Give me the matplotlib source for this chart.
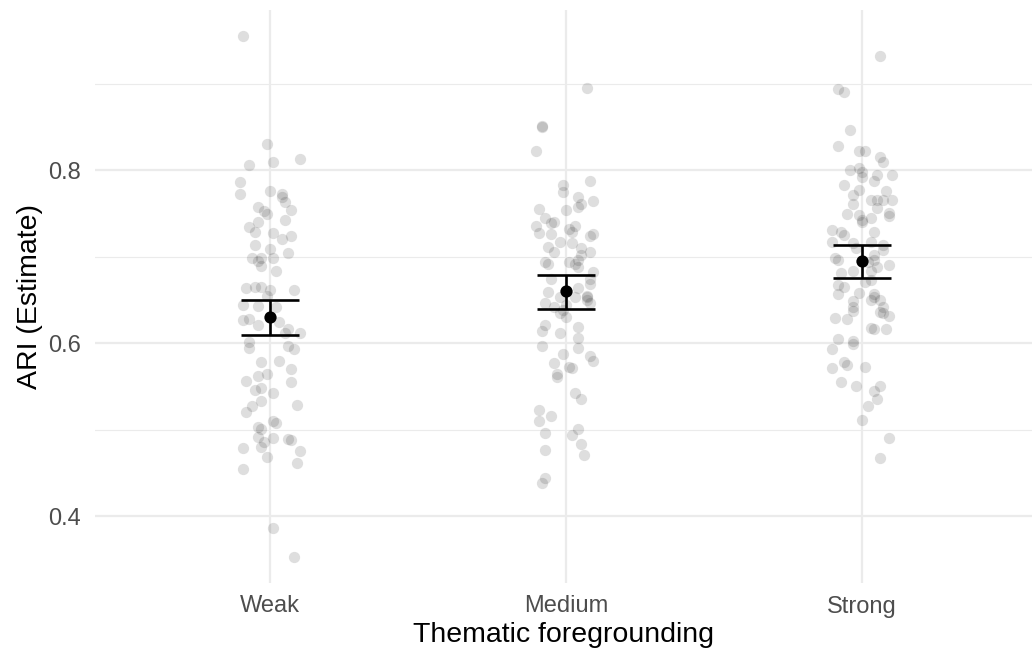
import numpy as np
import matplotlib
matplotlib.use("Agg")
import matplotlib.pyplot as plt

plt.rcParams['font.family'] = ['Liberation Sans', 'DejaVu Sans']

categories = ["Weak", "Medium", "Strong"]

weak_vals = [0.955, 0.830, 0.806, 0.810, 0.813, 0.786, 0.772, 0.776, 0.773, 0.769,
             0.763, 0.754, 0.757, 0.753, 0.749, 0.740, 0.742, 0.734, 0.728, 0.727,
             0.724, 0.720, 0.714, 0.709, 0.704, 0.699, 0.699, 0.695, 0.698, 0.689,
             0.683, 0.664, 0.665, 0.665, 0.661, 0.655, 0.662, 0.644, 0.643, 0.642,
             0.627, 0.628, 0.621, 0.624, 0.617, 0.612, 0.612, 0.601, 0.595, 0.597,
             0.593, 0.578, 0.579, 0.570, 0.562, 0.565, 0.556, 0.555, 0.548, 0.546,
             0.542, 0.533, 0.529, 0.527, 0.521, 0.510, 0.508, 0.503, 0.501, 0.492,
             0.491, 0.486, 0.489, 0.488, 0.479, 0.480, 0.475, 0.468, 0.462, 0.455,
             0.387, 0.353]
weak_jit = [-0.09, -0.01, -0.07, 0.01, 0.10, -0.10, -0.10, 0.00, 0.04, 0.04,
            0.05, 0.07, -0.04, -0.02, -0.01, -0.04, 0.05, -0.07, -0.05, 0.01,
            0.07, 0.04, -0.05, 0.00, 0.06, -0.06, -0.03, -0.04, 0.01, -0.03,
            0.02, -0.08, -0.05, -0.03, 0.00, -0.01, 0.08, -0.09, -0.04, 0.02,
            -0.09, -0.07, -0.04, 0.03, 0.06, 0.10, 0.05, -0.07, -0.07, 0.06,
            0.08, -0.03, 0.03, 0.07, -0.04, -0.01, -0.08, 0.07, -0.03, -0.05,
            0.01, -0.03, 0.09, -0.06, -0.08, 0.01, 0.02, -0.04, -0.03, -0.04,
            0.01, -0.02, 0.06, 0.07, -0.09, -0.03, 0.10, -0.01, 0.09, -0.09,
            0.01, 0.08]

medium_vals = [0.895, 0.851, 0.850, 0.822, 0.787, 0.783, 0.775, 0.769, 0.764, 0.761,
               0.757, 0.755, 0.754, 0.745, 0.740, 0.739, 0.735, 0.736, 0.727, 0.726,
               0.732, 0.728, 0.724, 0.726, 0.717, 0.716, 0.711, 0.705, 0.710, 0.705,
               0.702, 0.696, 0.694, 0.692, 0.694, 0.691, 0.688, 0.674, 0.682, 0.674,
               0.669, 0.664, 0.659, 0.647, 0.653, 0.655, 0.653, 0.650, 0.653, 0.644,
               0.647, 0.642, 0.638, 0.630, 0.635, 0.621, 0.614, 0.612, 0.619, 0.606,
               0.595, 0.597, 0.587, 0.585, 0.579, 0.577, 0.572, 0.571, 0.564, 0.561,
               0.542, 0.535, 0.523, 0.510, 0.516, 0.496, 0.501, 0.494, 0.483, 0.477,
               0.471, 0.444, 0.439]
medium_jit = [0.07, -0.08, -0.08, -0.10, 0.08, -0.01, -0.01, 0.04, 0.09, 0.05,
              0.04, -0.09, 0.00, -0.07, -0.04, -0.05, -0.10, 0.03, -0.09, -0.05,
              0.01, 0.02, 0.08, 0.09, -0.02, 0.02, -0.06, -0.04, 0.05, 0.08,
              0.05, 0.04, -0.07, -0.06, 0.01, 0.03, 0.04, -0.05, 0.09, 0.08,
              0.08, 0.04, -0.06, -0.07, -0.02, 0.07, 0.07, 0.07, 0.03, 0.00,
              0.08, -0.04, -0.01, 0.00, -0.02, -0.07, -0.08, -0.02, 0.04, 0.04,
              0.04, -0.08, -0.01, 0.08, 0.09, -0.04, 0.01, 0.02, -0.03, -0.03,
              0.03, 0.05, -0.09, -0.09, -0.05, -0.07, 0.04, 0.02, 0.05, -0.07,
              0.06, -0.07, -0.08]

strong_vals = [0.932, 0.894, 0.890, 0.846, 0.828, 0.822, 0.822, 0.815, 0.810, 0.800,
               0.802, 0.798, 0.792, 0.794, 0.794, 0.787, 0.783, 0.777, 0.776, 0.771,
               0.765, 0.765, 0.766, 0.766, 0.756, 0.761, 0.749, 0.748, 0.751, 0.747,
               0.742, 0.745, 0.740, 0.731, 0.728, 0.725, 0.728, 0.717, 0.716, 0.710,
               0.717, 0.714, 0.708, 0.698, 0.696, 0.702, 0.696, 0.694, 0.688, 0.690,
               0.681, 0.684, 0.684, 0.673, 0.671, 0.667, 0.665, 0.657, 0.658, 0.657,
               0.653, 0.650, 0.649, 0.642, 0.642, 0.650, 0.637, 0.636, 0.635, 0.631,
               0.629, 0.628, 0.618, 0.617, 0.616, 0.605, 0.602, 0.599, 0.593, 0.578,
               0.575, 0.571, 0.572, 0.555, 0.550, 0.551, 0.545, 0.535, 0.528, 0.511,
               0.491, 0.467]
strong_jit = [0.06, -0.08, -0.06, -0.04, -0.08, -0.01, 0.01, 0.06, 0.07, -0.04,
              -0.01, 0.00, 0.00, 0.05, 0.10, 0.04, -0.06, -0.01, 0.08, -0.03,
              0.03, 0.05, 0.07, 0.10, 0.05, -0.03, -0.05, -0.01, 0.09, 0.09,
              0.00, 0.03, 0.00, -0.10, -0.07, -0.06, 0.04, -0.10, -0.03, -0.02,
              0.03, 0.07, 0.07, -0.09, -0.08, 0.04, 0.04, 0.02, 0.05, 0.09,
              -0.07, -0.03, 0.03, 0.03, 0.01, -0.08, -0.06, -0.08, -0.01, 0.04,
              0.04, 0.06, -0.03, 0.07, -0.03, 0.03, -0.03, 0.06, 0.07, 0.09,
              -0.09, -0.05, 0.03, 0.04, 0.08, -0.08, -0.03, -0.03, -0.10, -0.06,
              -0.05, -0.10, 0.01, -0.07, -0.02, 0.06, 0.04, 0.05, 0.02, 0.00,
              0.09, 0.06]

means = [0.630, 0.660, 0.695]
ci_low = [0.610, 0.640, 0.675]
ci_high = [0.650, 0.679, 0.714]

yticks = [0.4, 0.6, 0.8]
yminor = [0.5, 0.7, 0.9]

fig = plt.figure(figsize=(10.32, 6.51), dpi=100)
ax = fig.add_axes([95/1032, 68/651, 937/1032, 573/651])

grid_c = "#EBEBEB"
for t in yticks:
    ax.axhline(t, color=grid_c, lw=1.6, zorder=0)
for t in yminor:
    ax.axhline(t, color=grid_c, lw=0.8, zorder=0)
for i in range(len(categories)):
    ax.axvline(i + 1, color=grid_c, lw=1.6, zorder=0)

groups = [(weak_vals, weak_jit), (medium_vals, medium_jit), (strong_vals, strong_jit)]
for i, (vals, jit) in enumerate(groups):
    xs = (i + 1) + np.asarray(jit)
    ax.scatter(xs, vals, s=66, color="black", alpha=0.13, linewidths=0, zorder=2)

xpos = np.arange(1, len(categories) + 1)
m = np.asarray(means)
yerr = np.vstack([m - np.asarray(ci_low), np.asarray(ci_high) - m])
ax.errorbar(xpos, m, yerr=yerr, fmt="none", ecolor="black", elinewidth=1.9,
            capsize=21, capthick=1.9, zorder=3)
ax.scatter(xpos, m, s=78, color="black", zorder=4, linewidths=0)

allv = np.concatenate([weak_vals, medium_vals, strong_vals])
lo, hi = allv.min(), allv.max()
pad = 0.05 * (hi - lo)
ax.set_ylim(lo - pad, hi + pad)
ax.set_xlim(0.409, 3.574)

ax.set_xticks(xpos)
ax.set_xticklabels(categories)
ax.set_yticks(yticks)
ax.set_yticklabels(["0.4", "0.6", "0.8"])
ax.tick_params(axis="both", length=0, labelsize=17, labelcolor="#4D4D4D")
ax.tick_params(axis="x", pad=9)
ax.tick_params(axis="y", pad=10)
for s in ax.spines.values():
    s.set_visible(False)

ax.set_xlabel("Thematic foregrounding", fontsize=20.5, labelpad=3)
ax.set_ylabel("ARI (Estimate)", fontsize=20.5, labelpad=4)

fig.savefig("out.png", dpi=100)
